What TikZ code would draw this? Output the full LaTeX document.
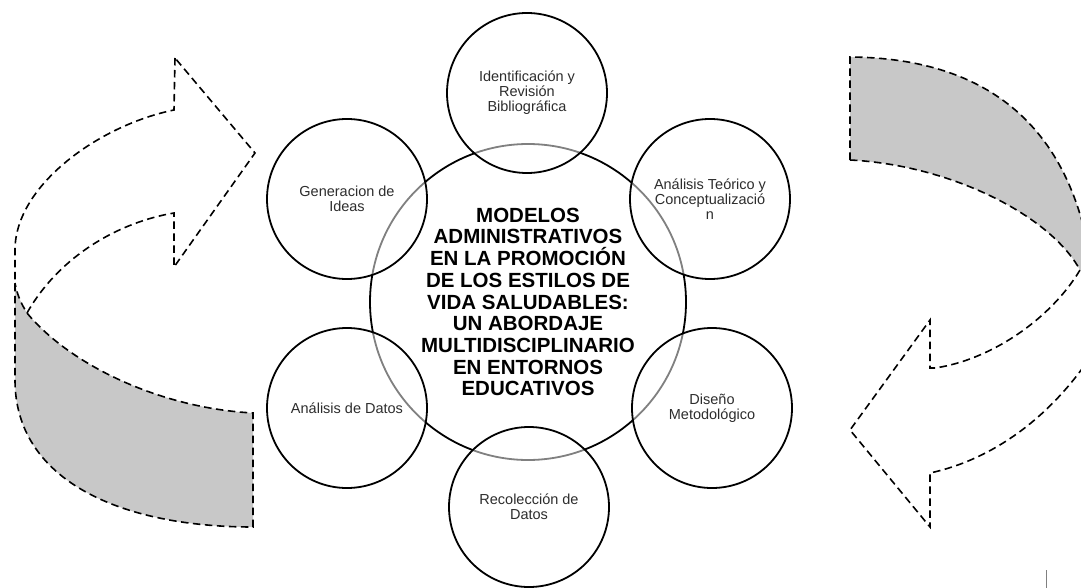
\documentclass[tikz,border=0pt]{standalone}
\usepackage{fontspec}
\setmainfont{Liberation Sans}
\definecolor{bandgray}{RGB}{200,200,200}
\definecolor{txtgray}{RGB}{45,45,45}
\begin{document}
\begin{tikzpicture}[x=1pt,y=-1pt,
  dashline/.style={line width=1.6pt, dash pattern=on 7.5pt off 4.5pt, line join=miter},
  smallc/.style={circle, draw, line width=1.8pt, minimum size=160pt, inner sep=0pt,
    fill=white, fill opacity=0.5, text opacity=1, align=center, text=txtgray,
    font=\fontsize{14.5}{15}\selectfont},
  bigc/.style={circle, draw, line width=1.8pt, minimum size=316pt, inner sep=0pt,
    fill=white, align=center, font=\fontsize{20.5}{21.7}\selectfont\bfseries}]
\useasboundingbox (0,0) rectangle (1081,588);
\begin{scope}
\clip (0,0) rectangle (1081,588);
% left arrow
\fill[bandgray] (15,283) -- (15,380) .. controls (15,480) and (120,527) .. (253,527)
  -- (253,413) .. controls (160,408) and (70,365) .. (27,313)
  .. controls (22,305) and (17,295) .. (15,283) -- cycle;
\draw[dashline] (175,58) -- (174,110) .. controls (100,125) and (15,185) .. (15,250)
  -- (15,380) .. controls (15,480) and (120,527) .. (253,527)
  -- (253,413) .. controls (160,408) and (70,365) .. (27,313)
  .. controls (22,305) and (17,295) .. (15,283);
\draw[dashline] (27,313) .. controls (60,255) and (120,222) .. (174,213)
  -- (174,267) -- (255,153) -- (175,58);
% right arrow
\fill[bandgray] (850,160) -- (850,57) .. controls (970,58) and (1070,110) .. (1092,270)
  -- (1080,270) .. controls (1050,215) and (950,165) .. (850,160) -- cycle;
\draw[dashline] (850,160) -- (850,57) .. controls (970,58) and (1070,110) .. (1092,270);
\draw[dashline] (850,160) .. controls (950,165) and (1050,215) .. (1080,270)
  .. controls (1050,320) and (990,360) .. (935,368) -- (930,368) -- (930,320)
  -- (850,430) -- (930,527) -- (930,473) .. controls (990,460) and (1050,420) .. (1095,350);
\end{scope}
% circles
\node[bigc] (c) at (528,302) {MODELOS\\ADMINISTRATIVOS\\EN LA PROMOCIÓN\\DE LOS ESTILOS DE\\VIDA SALUDABLES:\\UN ABORDAJE\\MULTIDISCIPLINARIO\\EN ENTORNOS\\EDUCATIVOS};
\node[smallc] (s1) at (527,93) {Identificación y\\Revisión\\Bibliográfica};
\node[smallc] (s2) at (710,199) {Análisis Teórico y\\Conceptualizació\\n};
\node[smallc] (s3) at (712,408) {Diseño\\Metodológico};
\node[smallc] (s4) at (529,507) {Recolección de\\Datos};
\node[smallc] (s5) at (347,408) {Análisis de Datos};
\node[smallc] (s6) at (347,199) {Generacion de\\Ideas};
% small mark at bottom right
\draw[gray, line width=1pt] (1046,570) -- (1046,588);
\end{tikzpicture}
\end{document}
